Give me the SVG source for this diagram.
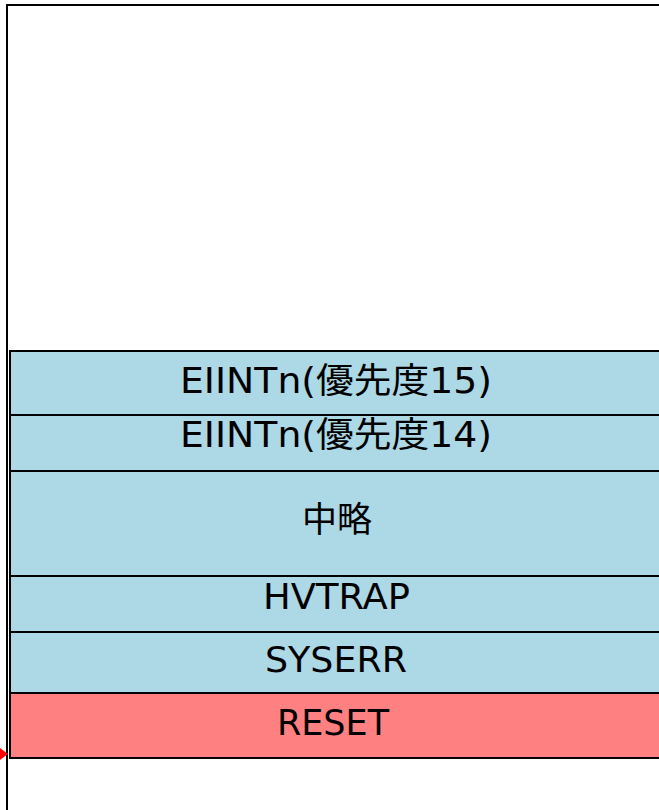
<svg xmlns="http://www.w3.org/2000/svg" width="659" height="810" viewBox="0 0 659 810">
<style>
.frame{fill:#fff;stroke:#000;stroke-width:2}
.box{fill:#ADD8E6;stroke:#000;stroke-width:2}
.reset{fill:#FF8080;stroke:#000;stroke-width:2}
.lbl{font-family:"DejaVu Sans","Noto Sans CJK JP",sans-serif;font-size:35px;fill:#000;text-anchor:middle}
</style>
<rect width="659" height="810" fill="#fff"/>
<g id="frame"><rect class="frame" x="7" y="5" width="700" height="850"/></g>
<g id="eiint15"><rect class="box" x="10" y="351" width="700" height="64"/><text class="lbl" x="336" y="393" textLength="312" lengthAdjust="spacingAndGlyphs">EIINTn(優先度15)</text></g>
<g id="eiint14"><rect class="box" x="10" y="415" width="700" height="56"/><text class="lbl" x="336" y="447" textLength="312" lengthAdjust="spacingAndGlyphs">EIINTn(優先度14)</text></g>
<g id="chuuryaku"><rect class="box" x="10" y="471" width="700" height="105"/><text class="lbl" x="337" y="532">中略</text></g>
<g id="hvtrap"><rect class="box" x="10" y="576" width="700" height="56"/><text class="lbl" x="336.5" y="609" textLength="147" lengthAdjust="spacingAndGlyphs">HVTRAP</text></g>
<g id="syserr"><rect class="box" x="10" y="632" width="700" height="61"/><text class="lbl" x="336" y="672" textLength="142" lengthAdjust="spacingAndGlyphs">SYSERR</text></g>
<g id="reset"><rect class="reset" x="10" y="693" width="700" height="65"/><text class="lbl" x="333" y="735">RESET</text></g>
<g id="connectors"><polygon points="0,748 8,754 0,760" fill="#FF0000"/></g>
</svg>
